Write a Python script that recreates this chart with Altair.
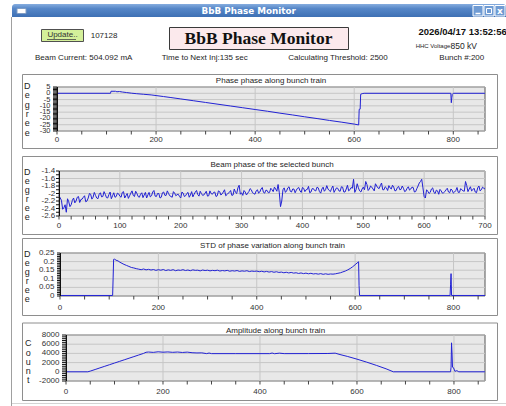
import altair as alt
import pandas as pd

# ---------------- text content ----------------
WINDOW_TITLE = "BbB Phase Monitor"
HEADING = "BbB Phase Monitor"
UPDATE_LABEL = "Update.."
COUNTER = "107128"
TIMESTAMP = "2026/04/17 13:52:56"
HHC_LABEL = "HHC Voltage:"
HHC_VALUE = "850  kV"
INFO_ROW = ["Beam Current: 504.092 mA", "Time to Next Inj:135 sec",
            "Calculating Threshold: 2500", "Bunch #:200"]
PANEL_TITLES = ["Phase phase along bunch train",
                "Beam phase of the selected bunch",
                "STD of phase variation along bunch train",
                "Amplitude along bunch train"]
Y_TITLES = [["D", "e", "g", "r", "e", "e"], ["D", "e", "g", "r", "e", "e"],
            ["D", "e", "g", "r", "e", "e"], ["C", "o", "u", "n", "t"]]

# ---------------- series ----------------
phase_bunch = [0, 108, 109, 118, 121, 126, 132, 140, 150, 160, 175, 190, 200, 215, 230, 250,
               275, 300, 325, 350, 375, 400, 425, 450, 475, 500, 525, 550, 575, 600, 609, 610,
               612, 613, 616, 620, 795, 796, 797, 798, 800, 864]
phase_deg = [0, 0, 1.6, 1.6, 1.2, 1.4, 1.0, 0.6, 0.1, -0.3, -0.8, -1.3, -1.8, -2.6, -3.4, -4.5,
             -5.9, -7.3, -8.7, -10.1, -11.5, -12.9, -14.3, -15.8, -17.2, -18.7, -20.1, -21.6,
             -23.0, -24.5, -25.2, -12.8, -12.6, -0.8, -0.3, 0, 0, -7.5, -3.5, -0.8, 0, 0]

# selected bunch: samples at turns 0,4,8,... and 2,6,10,...
sel_turn_a = list(range(0, 701, 4))
sel_phase_a = [
    -2.05, -2.18, -2.38, -2.5, -2.22, -2.3, -2.12, -2.2, -2.08, -2.16,
    -2.1, -2.22, -2.12, -2.02, -2.1, -2.05, -2.14, -1.98, -2.08, -2.02,
    -2.12, -1.96, -2.06, -2.1, -1.99, -2.07, -1.97, -2.12, -2.0, -2.06,
    -1.93, -2.08, -2.0, -2.1, -1.98, -2.04, -2.12, -1.97, -2.06, -1.92,
    -2.08, -2.0, -2.1, -1.96, -2.05, -2.0, -2.08, -1.95, -2.06, -2.02,
    -2.12, -1.99, -2.06, -1.97, -2.04, -2.09, -1.96, -2.03, -1.94, -2.05,
    -1.99, -2.07, -1.93, -2.02, -1.96, -2.06, -1.95, -2.01, -1.9, -2.03,
    -1.97, -2.05, -1.88, -2.0, -1.78, -1.98, -1.92, -2.04, -1.95, -1.9,
    -2.0, -1.93, -1.99, -1.88, -1.97, -1.91, -1.98, -1.86, -1.95, -1.88,
    -1.76, -2.35, -1.9, -1.97, -1.85, -1.94, -1.88, -1.98, -1.86, -1.93,
    -1.84, -1.95, -1.89, -1.98, -1.87, -1.92, -1.83, -1.95, -1.88, -1.94,
    -1.79, -1.92, -1.86, -1.97, -1.85, -1.93, -1.82, -1.96, -1.88, -1.93,
    -1.84, -1.62, -1.9, -1.85, -1.96, -1.83, -1.68, -1.92, -1.8, -1.88,
    -1.74, -1.85, -1.79, -1.9, -1.82, -1.92, -1.85, -1.78, -1.93, -1.84,
    -1.9, -1.8, -1.95, -1.86, -1.91, -1.83, -1.96, -1.87, -1.72, -1.62,
    -2.08, -1.9, -2.0, -1.88, -1.97, -1.91, -2.02, -1.93, -1.98, -1.9,
    -1.96, -1.88, -1.99, -1.92, -1.97, -1.87, -1.93, -1.68, -1.95, -1.82,
    -1.9, -1.96, -1.85, -1.93, -1.83, -1.88]
sel_turn_b = list(range(2, 700, 4))
sel_phase_b = [
    -2.12, -2.42, -2.3, -2.14, -2.35, -2.18, -2.25, -2.1, -2.24, -2.15, -2.06, -2.2,
    -2.0, -2.15, -1.97, -2.12, -2.02, -2.09, -1.95, -2.11, -2.03, -2.14, -1.98, -2.08, -2.01,
    -2.1, -1.95, -2.06, -2.13, -1.99, -2.05, -1.94, -2.08, -2.02, -2.11,
    -1.97, -2.04, -2.09, -1.96, -2.07, -2.0, -2.12, -1.98, -2.05, -1.93,
    -2.06, -2.1, -1.99, -2.03, -2.08,
    -1.96, -2.08, -2.0, -2.1, -1.95, -2.02, -1.92, -2.07, -2.0, -2.04,
    -1.94, -2.06, -2.0, -1.97, -2.08, -1.93, -2.04, -1.96, -2.06, -1.99,
    -1.92, -2.04, -1.97, -1.85, -2.02,
    -2.05, -1.96, -1.99, -1.87, -1.98, -2.02, -1.9, -1.96, -1.84, -1.99,
    -1.92, -1.97, -1.9, -1.83, -1.94,
    -1.98, -2.2,
    -1.85, -1.93, -1.82, -1.96, -1.88, -1.91, -1.84, -1.97, -1.86, -1.9,
    -1.81, -1.96, -1.87, -1.93, -1.85, -1.99, -1.83, -1.9, -1.88, -1.95,
    -1.8, -1.91, -1.86, -1.94, -1.83, -1.96, -1.78, -1.9, -1.86, -1.97,
    -1.74, -1.93, -1.88,
    -1.9, -1.76, -1.88, -1.83, -1.93, -1.8, -1.87, -1.72, -1.9, -1.85,
    -1.79, -1.88, -1.83, -1.92, -1.81, -1.89, -1.86, -1.93, -1.82, -1.88,
    -1.84, -1.95, -1.8,
    -1.68, -1.85,
    -2.12, -1.94, -1.97, -1.85, -2.0, -1.93, -1.89, -1.99, -1.95, -1.86,
    -1.98, -1.91, -1.96, -1.84, -1.97, -1.9, -1.94, -1.79, -1.88, -1.93,
    -1.86, -1.98, -1.8, -1.9, -1.86]
sel_turn = sel_turn_a + sel_turn_b
sel_phase = sel_phase_a + sel_phase_b

std_bunch = [0, 107, 108, 109, 111, 114, 118, 122, 126, 130, 135, 140, 145, 150, 155,
             160, 165, 170, 175, 180, 185, 190, 195, 200, 205, 210, 215, 220, 225, 230, 235,
             240, 245, 250, 255, 260, 265, 270, 275, 280, 285, 290, 295, 300, 305, 310, 315,
             320, 325, 330, 335, 340, 345, 350, 355, 360, 365, 370, 375, 380, 385, 390, 395,
             400, 405, 410, 415, 420, 425, 430, 435, 440, 445, 450, 455, 460, 465, 470, 475,
             480, 485, 490, 495, 500, 505, 510, 515, 520, 525, 530, 535, 540, 545, 550, 555,
             560, 565, 570, 575, 580, 585, 590, 595, 600, 604, 607, 608, 609, 793, 794, 795,
             796, 864]
std_deg = [0.003, 0.003, 0.105, 0.213, 0.214, 0.208, 0.204, 0.196, 0.19, 0.184, 0.178, 0.172,
           0.166, 0.163, 0.159,
           0.156, 0.153, 0.157, 0.152, 0.155, 0.151, 0.154, 0.149, 0.153, 0.150, 0.154, 0.148,
           0.152, 0.149, 0.153, 0.147, 0.151, 0.149, 0.153, 0.148, 0.151, 0.147, 0.152, 0.149,
           0.150, 0.146, 0.151, 0.148, 0.150, 0.146, 0.149, 0.147, 0.150, 0.145, 0.148, 0.146,
           0.149, 0.144, 0.147, 0.145, 0.148, 0.143, 0.146, 0.144, 0.147, 0.142, 0.145, 0.143,
           0.145, 0.141, 0.144, 0.140, 0.143, 0.139, 0.142, 0.138, 0.141, 0.137, 0.139, 0.135,
           0.138, 0.134, 0.137, 0.133, 0.135, 0.131, 0.134, 0.130, 0.133, 0.129, 0.132, 0.128,
           0.130, 0.127, 0.130, 0.126, 0.129, 0.126, 0.128, 0.127, 0.129,
           0.132, 0.135, 0.140, 0.145, 0.152, 0.160, 0.170, 0.182, 0.192, 0.199, 0.06, 0.003,
           0.003, 0.065, 0.13, 0.003, 0.003]

amp_bunch = [0, 45, 50, 60, 70, 80, 90, 100, 110, 120, 130, 140, 150, 160, 165, 170, 180, 190,
             200, 210, 220, 230, 240, 250, 260, 270, 280, 290, 295, 300, 350, 400, 420, 425,
             430, 440, 450, 500, 540, 555, 565, 580, 600, 620, 640, 660, 675, 793, 794, 795,
             796, 797, 799, 802, 806, 810, 864]
amp_count = [0, 0, 150, 500, 850, 1200, 1550, 1900, 2250, 2600, 2950, 3300, 3650, 4000, 4250,
             4300, 4220, 4350, 4260, 4320, 4230, 4300, 4200, 4280, 4150, 4100, 4120, 3950, 4080,
             3950, 3950, 3950, 3950, 4080, 3930, 4050, 3950, 3960, 3980, 4050, 3750, 3350, 2750,
             2100, 1400, 650, 0, 0, 1000, 6300, 4100, 1000, 900, 100, 250, 0, 0]

# ---------------- axis ticks and tick labels ----------------
train_ticks = list(range(0, 865, 50))
train_major = [0, 200, 400, 600, 800]
train_labels = ["0", "200", "400", "600", "800"]
p1_yticks = list(range(-30, 6, 1))
p1_ymajor = [-30, -25, -20, -15, -10, -5, 0, 5]
p1_ylabels = ["-30", "-25", "-20", "-15", "-10", "-5", "0", "5"]
p2_xticks = list(range(0, 701, 20))
p2_xmajor = [0, 100, 200, 300, 400, 500, 600, 700]
p2_xlabels = ["0", "100", "200", "300", "400", "500", "600", "700"]
p2_yticks = [round(-2.6 + 0.1 * i, 2) for i in range(13)]
p2_ymajor = [-2.6, -2.4, -2.2, -2.0, -1.8, -1.6, -1.4]
p2_ylabels = ["-2.6", "-2.4", "-2.2", "-2", "-1.8", "-1.6", "-1.4"]
p3_yticks = [round(0.01 * i, 2) for i in range(26)]
p3_ymajor = [0, 0.05, 0.1, 0.15, 0.2, 0.25]
p3_ylabels = ["0", "0.05", "0.1", "0.15", "0.2", "0.25"]
p4_yticks = list(range(-2000, 8001, 400))
p4_ymajor = [-2000, 0, 2000, 4000, 6000, 8000]
p4_ylabels = ["-2000", "0", "2000", "4000", "6000", "8000"]

# ---------------- styling ----------------
W, H = 506, 406
FONT = "Liberation Sans"
LINE = "#2222d4"
BG = "#e8e8e8"
GRID = "#c6c6c6"
FRAME = "#8e8e8e"
BORDER = "#a0a0a0"
TXT = "#1e1e1e"
LBL = "#333333"
ONE = alt.Data(values=[{"k": 0}])


def vrect(x0, x1, y0, y1, **mk):
    return alt.Chart(ONE).mark_rect(**mk).encode(
        x=alt.value(x0), x2=alt.value(x1), y=alt.value(y0), y2=alt.value(y1))


def vrule(x0, x1, y0, y1, **mk):
    return alt.Chart(ONE).mark_rule(**mk).encode(
        x=alt.value(x0), x2=alt.value(x1), y=alt.value(y0), y2=alt.value(y1))


def vtext(s, x, y, **mk):
    base = dict(font=FONT, fontSize=8, color=TXT, align="left", baseline="middle")
    base.update(mk)
    return alt.Chart(ONE).mark_text(**base).encode(
        x=alt.value(x), y=alt.value(y), text=alt.value(s))


def make_panel(xs, ys, g):
    px, py, pw, ph = g["plot"]
    fy0, fy1 = g["frame"]
    bot = py + ph
    xsc = alt.Scale(domain=g["xdom"], range=[px, px + pw], nice=False, zero=False)
    ysc = alt.Scale(domain=g["ydom"], range=[bot, py], nice=False, zero=False)
    xq = lambda f: alt.X(f, type="quantitative", scale=xsc, axis=None)
    yq = lambda f: alt.Y(f, type="quantitative", scale=ysc, axis=None)

    vgrid = alt.Chart(pd.DataFrame({"v": g["xmajor"]})).mark_rule(
        color=GRID, strokeWidth=1).encode(x=xq("v"), y=alt.value(py), y2=alt.value(bot))
    hgrid = alt.Chart(pd.DataFrame({"v": g["ymajor"]})).mark_rule(
        color=GRID, strokeWidth=1).encode(y=yq("v"), x=alt.value(px), x2=alt.value(px + pw))
    line = alt.Chart(pd.DataFrame({"x": xs, "y": ys})).mark_line(
        color=LINE, strokeWidth=1, clip=True).encode(x=xq("x"), y=yq("y"), order="x:Q")
    xtick = alt.Chart(pd.DataFrame({"v": g["xticks"]})).mark_rule(
        color="#444", strokeWidth=1).encode(x=xq("v"), y=alt.value(bot), y2=alt.value(bot + 3.5))
    ytick = alt.Chart(pd.DataFrame({"v": g["yticks"]})).mark_rule(
        color="#111", strokeWidth=1).encode(y=yq("v"), x=alt.value(px - g["ytick"]), x2=alt.value(px))
    xlab = alt.Chart(pd.DataFrame({"v": g["xmajor"], "t": g["xlabels"]})).mark_text(
        font=FONT, fontSize=8, color=LBL, align="center", baseline="middle").encode(
        x=xq("v"), y=alt.value(g["xlab_y"]), text="t:N")
    ylab = alt.Chart(pd.DataFrame({"v": g["ymajor"], "t": g["ylabels"]})).mark_text(
        font=FONT, fontSize=g.get("ylab_fs", 8), color=LBL, align="right",
        baseline="middle").encode(y=yq("v"), x=alt.value(g["ylab_x"]), text="t:N")
    return alt.layer(
        vrect(22.5, 497.5, fy0, fy1, fillOpacity=0, stroke=FRAME, strokeWidth=1),
        vrect(px, px + pw, py, bot, fill=BG, stroke="#555", strokeWidth=1),
        vgrid, hgrid, line,
        vrule(px + 0.5, px + 0.5, py, bot, color="#111", strokeWidth=1),
        xtick, ytick, xlab, ylab,
        vtext(g["title"], px + pw / 2, g["title_y"], align="center"),
        vtext(g["ytitle"], g["ytx"], g["yty"], align="center", baseline="top",
              fontSize=9, lineHeight=g["ylh"]),
    )


p1 = make_panel(phase_bunch, phase_deg, dict(
    plot=(57, 87, 428, 44), frame=(74.5, 148.5),
    title=PANEL_TITLES[0], title_y=81.2, ytitle=Y_TITLES[0], ytx=27.3, yty=81.8, ylh=9.4,
    xdom=[0, 864], ydom=[-30, 5], xticks=train_ticks, yticks=p1_yticks,
    xmajor=train_major, xlabels=train_labels, ymajor=p1_ymajor, ylabels=p1_ylabels,
    xlab_y=140.2, ylab_x=50.5, ytick=4, ylab_fs=7.5))

p2 = make_panel(sel_turn, sel_phase, dict(
    plot=(59, 171, 426, 45), frame=(156.5, 234.5),
    title=PANEL_TITLES[1], title_y=165.3, ytitle=Y_TITLES[1], ytx=27.3, yty=168.4, ylh=9.0,
    xdom=[0, 700], ydom=[-2.6, -1.4], xticks=p2_xticks, yticks=p2_yticks,
    xmajor=p2_xmajor, xlabels=p2_xlabels, ymajor=p2_ymajor, ylabels=p2_ylabels,
    xlab_y=225.8, ylab_x=55.3, ytick=3))

p3 = make_panel(std_bunch, std_deg, dict(
    plot=(60, 253, 425, 43), frame=(238.5, 315.5),
    title=PANEL_TITLES[2], title_y=246.3, ytitle=Y_TITLES[2], ytx=27.3, yty=250.1, ylh=9.0,
    xdom=[0, 864], ydom=[0, 0.25], xticks=train_ticks, yticks=p3_yticks,
    xmajor=train_major, xlabels=train_labels, ymajor=p3_ymajor, ylabels=p3_ylabels,
    xlab_y=307.5, ylab_x=54.5, ytick=3))

p4 = make_panel(amp_bunch, amp_count, dict(
    plot=(66, 335, 419, 46), frame=(323, 400.5),
    title=PANEL_TITLES[3], title_y=330.7, ytitle=Y_TITLES[3], ytx=28.3, yty=339.4, ylh=9.2,
    xdom=[0, 864], ydom=[-2000, 8000], xticks=train_ticks, yticks=p4_yticks,
    xmajor=train_major, xlabels=train_labels, ymajor=p4_ymajor, ylabels=p4_ylabels,
    xlab_y=392, ylab_x=59.5, ytick=4))

# ---------------- header (window chrome + status area) ----------------
title_grad = alt.LinearGradient(
    gradient="linear", x1=0, x2=0, y1=0, y2=1,
    stops=[alt.GradientStop(offset=0, color="#86addf"),
           alt.GradientStop(offset=0.35, color="#5687c8"),
           alt.GradientStop(offset=1, color="#3e70b4")])
header_layers = [
    vrect(11, 12, 17, 406, color=BORDER),
    vrect(12, 506, 403, 404, color="#d4d4d4"),
    vrect(12, 506, 4, 17, fill=title_grad, cornerRadiusTopLeft=3, cornerRadiusTopRight=3),
    vrect(17, 26, 8.5, 13.5, fill="white", stroke="#7f9cc4", strokeWidth=1),
    vtext(WINDOW_TITLE, 248.7, 11, font="DejaVu Sans", fontWeight="bold", fontSize=8.8,
          color="white", align="center"),
    vrect(473, 483, 5.5, 16, fill="#6f9bd3", stroke="white", strokeWidth=1),
    vrect(484, 494, 5.5, 16, fill="#6f9bd3", stroke="white", strokeWidth=1),
    vrect(495, 505, 5.5, 16, fill="#6f9bd3", stroke="white", strokeWidth=1),
    vrule(475.5, 480.5, 13.5, 13.5, color="white", strokeWidth=1.5),
    vrect(486.5, 491.5, 8.5, 13.5, fillOpacity=0, stroke="white", strokeWidth=1),
    vtext("x", 500, 10.5, font="DejaVu Sans", fontWeight="bold", fontSize=9,
          color="white", align="center"),
    vrect(41.5, 83.5, 29.5, 41.5, fill="#d4f09a", stroke="#505050", strokeWidth=1),
    vtext(UPDATE_LABEL, 62.5, 35.3, align="center", color="#333"),
    vrule(47, 76, 39.5, 39.5, color="#444", strokeWidth=0.8),
    vtext(COUNTER, 90.7, 35.5),
    vrect(169.5, 348.5, 27.5, 49.5, fill="#fbe9ec", stroke="#3a3a3a", strokeWidth=1),
    vtext(HEADING, 258.5, 44.3, font="Liberation Serif", fontWeight="bold", fontSize=17.5,
          color="#111", align="center", baseline="alphabetic"),
    vtext(TIMESTAMP, 418.5, 31.5, fontWeight="bold", fontSize=9.5, color="#111"),
    vtext(HHC_LABEL, 415.7, 46, fontSize=6),
    vtext(HHC_VALUE, 450.5, 46, fontSize=8.5),
    vtext(INFO_ROW[0], 35, 58.3),
    vtext(INFO_ROW[1], 161.7, 58.3),
    vtext(INFO_ROW[2], 288.3, 58.3),
    vtext(INFO_ROW[3], 439.3, 58.3),
]

chart = alt.layer(*header_layers, p1, p2, p3, p4).resolve_scale(
    x="independent", y="independent").properties(
    width=W, height=H, autosize=alt.AutoSizeParams(type="none"), padding=0,
    background="white").configure_view(strokeOpacity=0)

chart.save("out.html", embed_options={"renderer": "svg", "actions": False})
